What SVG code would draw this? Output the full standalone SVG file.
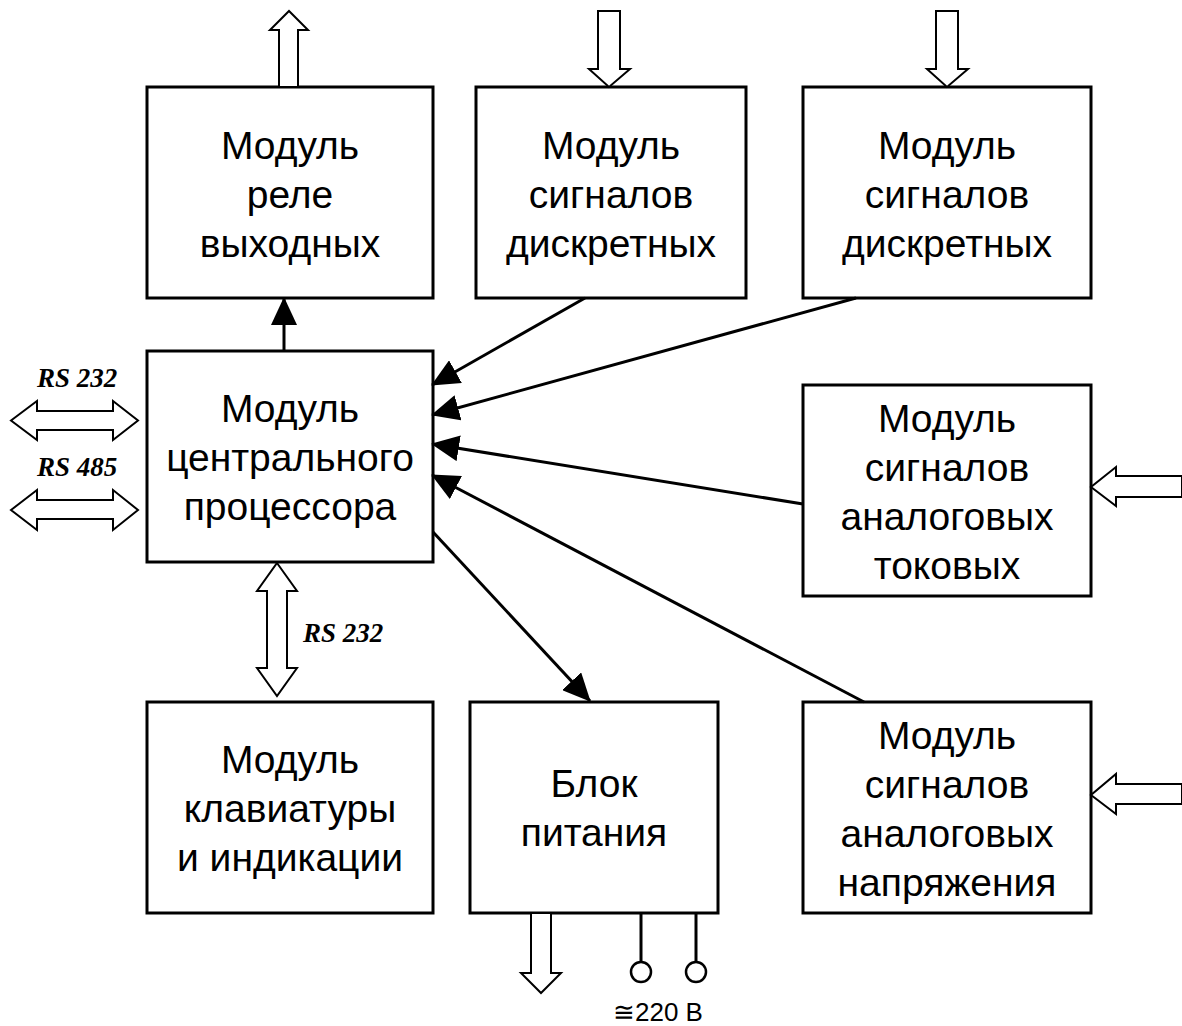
<svg xmlns="http://www.w3.org/2000/svg" width="1182" height="1026" viewBox="0 0 1182 1026">
<defs>
<style>
.box{fill:#fff;stroke:#000;stroke-width:3}
.lbl{font-family:"Liberation Sans",Arial,sans-serif;font-size:39px;text-anchor:middle;fill:#000}
.rs{font-family:"Liberation Serif","Times New Roman",serif;font-size:27px;font-weight:bold;font-style:italic;fill:#000}
.blk{fill:#fff;stroke:#000;stroke-width:2;stroke-linejoin:miter}
.con{stroke:#000;stroke-width:3;fill:none}
.term{fill:#fff;stroke:#000;stroke-width:2.5}
</style>
<marker id="ah" markerUnits="userSpaceOnUse" markerWidth="28" markerHeight="26" viewBox="0 0 28 26" refX="27" refY="13" orient="auto">
<path d="M0,0 L28,13 L0,26 Z" fill="#000"/>
</marker>
</defs>
<rect width="1182" height="1026" fill="#fff"/>

<g id="relay">
<rect class="box" x="147" y="87" width="286" height="211"/>
<text class="lbl" x="290" y="159">Модуль</text>
<text class="lbl" x="290" y="208">реле</text>
<text class="lbl" x="290" y="257">выходных</text>
</g>
<g id="discrete1">
<rect class="box" x="476" y="87" width="270" height="211"/>
<text class="lbl" x="611" y="159">Модуль</text>
<text class="lbl" x="611" y="208">сигналов</text>
<text class="lbl" x="611" y="257">дискретных</text>
</g>
<g id="discrete2">
<rect class="box" x="803" y="87" width="288" height="211"/>
<text class="lbl" x="947" y="159">Модуль</text>
<text class="lbl" x="947" y="208">сигналов</text>
<text class="lbl" x="947" y="257">дискретных</text>
</g>
<g id="cpu">
<rect class="box" x="147" y="351" width="286" height="211"/>
<text class="lbl" x="290" y="422">Модуль</text>
<text class="lbl" x="290" y="471">центрального</text>
<text class="lbl" x="290" y="520">процессора</text>
</g>
<g id="analog-current">
<rect class="box" x="803" y="385" width="288" height="211"/>
<text class="lbl" x="947" y="432">Модуль</text>
<text class="lbl" x="947" y="481">сигналов</text>
<text class="lbl" x="947" y="530">аналоговых</text>
<text class="lbl" x="947" y="579">токовых</text>
</g>
<g id="keyboard">
<rect class="box" x="147" y="702" width="286" height="211"/>
<text class="lbl" x="290" y="773">Модуль</text>
<text class="lbl" x="290" y="822">клавиатуры</text>
<text class="lbl" x="290" y="871">и индикации</text>
</g>
<g id="power">
<rect class="box" x="470" y="702" width="248" height="211"/>
<text class="lbl" x="594" y="797">Блок</text>
<text class="lbl" x="594" y="846">питания</text>
</g>
<g id="analog-voltage">
<rect class="box" x="803" y="702" width="288" height="211"/>
<text class="lbl" x="947" y="749">Модуль</text>
<text class="lbl" x="947" y="798">сигналов</text>
<text class="lbl" x="947" y="847">аналоговых</text>
<text class="lbl" x="947" y="896">напряжения</text>
</g>

<g id="connectors">
<line class="con" x1="284" y1="351" x2="284" y2="298" marker-end="url(#ah)"/>
<line class="con" x1="585" y1="298" x2="432" y2="385" marker-end="url(#ah)"/>
<line class="con" x1="856" y1="298" x2="432" y2="415" marker-end="url(#ah)"/>
<line class="con" x1="803" y1="504" x2="432" y2="444" marker-end="url(#ah)"/>
<line class="con" x1="864" y1="702" x2="432" y2="475" marker-end="url(#ah)"/>
<line class="con" x1="433" y1="532" x2="590" y2="701" marker-end="url(#ah)"/>

<polygon class="blk" points="279,87 279,30 270,30 289,11 308,30 298,30 298,87"/>
<polygon class="blk" points="598,11 620,11 620,69 630,69 609,87 589,69 598,69"/>
<polygon class="blk" points="936,11 958,11 958,69 968,69 947,87 927,69 936,69"/>
<polygon class="blk" points="1182,476 1116,476 1116,467 1091,487 1116,506 1116,497 1182,497"/>
<polygon class="blk" points="1182,784 1116,784 1116,774 1091,795 1116,814 1116,804 1182,804"/>
<polygon class="blk" points="11,420.5 37,401 37,411 113,411 113,401 138,420.5 113,440 113,430 37,430 37,440"/>
<polygon class="blk" points="11,510 37,490 37,500 113,500 113,490 138,510 113,530 113,519 37,519 37,530"/>
<polygon class="blk" points="277,563 297,591 287,591 287,668 297,668 277,696 257,668 267,668 267,591 257,591"/>
<polygon class="blk" points="531,913 551,913 551,973 561,973 541,993 521,973 531,973"/>

<line class="con" x1="641" y1="913" x2="641" y2="962"/>
<line class="con" x1="696" y1="913" x2="696" y2="962"/>
<circle class="term" cx="641" cy="972" r="10"/>
<circle class="term" cx="696" cy="972" r="10"/>
</g>

<text class="rs" x="37" y="387">RS 232</text>
<text class="rs" x="37" y="476">RS 485</text>
<text class="rs" x="303" y="642">RS 232</text>
<text x="613" y="1021" font-family="Liberation Sans, Arial, sans-serif" font-size="26">≅220 В</text>
</svg>
